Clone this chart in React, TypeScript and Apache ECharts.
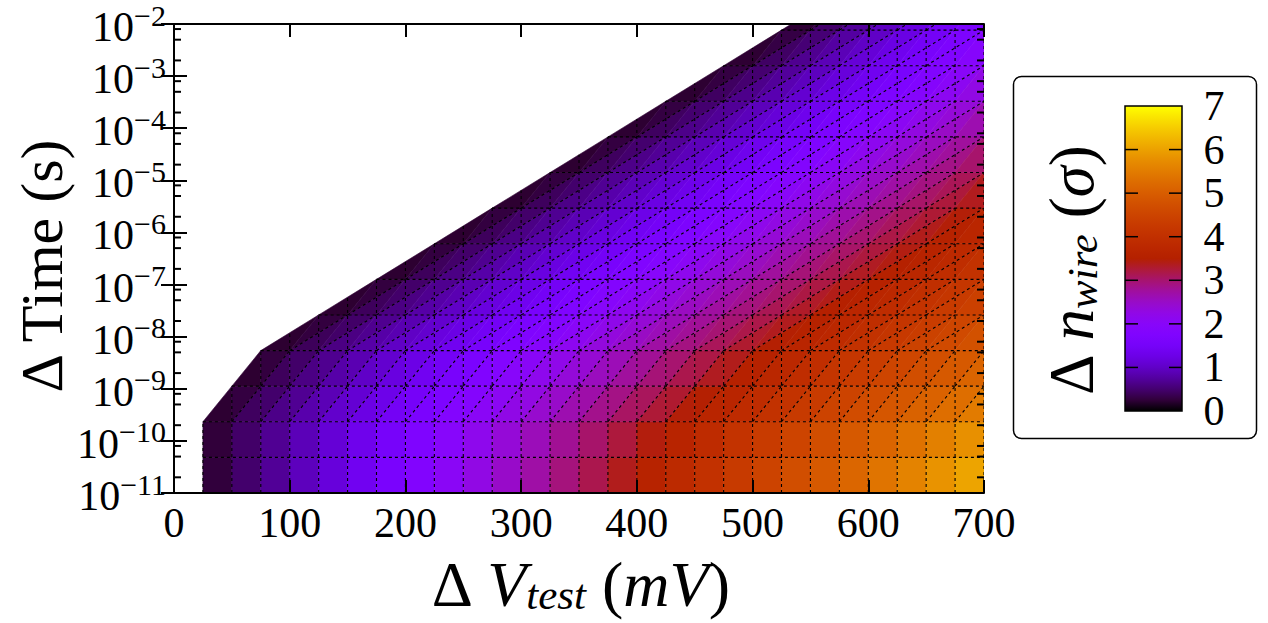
import React, { useEffect, useRef } from "react";
import * as echarts from "echarts";

const FONT = "Liberation Serif, serif";

// Test-voltage steps (mV): one mesh column each
const VOLTAGES = [
  25, 50, 75, 100, 125, 150, 175, 200, 225, 250, 275, 300, 325, 350, 375, 400,
  425, 450, 475, 500, 525, 550, 575, 600, 625, 650, 675, 700,
];

// log10 of the time step (s): one mesh row each
const TIME_EXPONENTS = [
  -11.0, -10.317, -9.633, -8.95, -8.267, -7.583, -6.9, -6.217, -5.533, -4.85,
  -4.167, -3.483, -2.8, -2.117, -1.433,
];

// Δn_wire (σ) on each mesh row; a row starts at its first valid voltage and
// runs up to 700 mV (rows are right-aligned on VOLTAGES)
const ROW_00 = [0.15, 0.38, 0.6, 0.83, 1.05, 1.28, 1.5, 1.73, 1.95, 2.18, 2.4, 2.63, 2.85, 3.08, 3.3, 3.53, 3.75, 3.98, 4.2, 4.43, 4.65, 4.88, 5.1, 5.33, 5.55, 5.78, 6.0, 6.23];
const ROW_01 = [0.15, 0.37, 0.59, 0.81, 1.03, 1.25, 1.47, 1.69, 1.91, 2.13, 2.35, 2.57, 2.79, 3.01, 3.23, 3.45, 3.67, 3.89, 4.11, 4.33, 4.55, 4.77, 4.99, 5.21, 5.43, 5.65, 5.87, 6.09];
const ROW_02 = [0.15, 0.36, 0.56, 0.77, 0.97, 1.18, 1.38, 1.59, 1.79, 2.0, 2.2, 2.41, 2.61, 2.82, 3.02, 3.23, 3.43, 3.64, 3.84, 4.05, 4.25, 4.46, 4.66, 4.87, 5.07, 5.28, 5.48, 5.69];
const ROW_03 = [0.15, 0.35, 0.55, 0.74, 0.94, 1.14, 1.34, 1.54, 1.73, 1.93, 2.13, 2.33, 2.53, 2.72, 2.92, 3.12, 3.32, 3.52, 3.71, 3.91, 4.11, 4.31, 4.51, 4.7, 4.9, 5.1, 5.3];
const ROW_04 = [0.15, 0.34, 0.53, 0.73, 0.92, 1.11, 1.3, 1.49, 1.69, 1.88, 2.07, 2.26, 2.45, 2.65, 2.84, 3.03, 3.22, 3.41, 3.61, 3.8, 3.99, 4.18, 4.37, 4.57, 4.76, 4.95];
const ROW_05 = [0.15, 0.34, 0.54, 0.73, 0.92, 1.12, 1.31, 1.5, 1.7, 1.89, 2.09, 2.28, 2.47, 2.67, 2.86, 3.05, 3.25, 3.44, 3.63, 3.83, 4.02, 4.21, 4.41, 4.6];
const ROW_06 = [0.15, 0.35, 0.54, 0.74, 0.93, 1.13, 1.32, 1.52, 1.71, 1.91, 2.1, 2.3, 2.49, 2.69, 2.88, 3.08, 3.27, 3.47, 3.66, 3.86, 4.05, 4.25];
const ROW_07 = [0.15, 0.35, 0.54, 0.74, 0.94, 1.14, 1.33, 1.53, 1.73, 1.92, 2.12, 2.32, 2.51, 2.71, 2.91, 3.11, 3.3, 3.5, 3.7, 3.89];
const ROW_08 = [0.15, 0.35, 0.55, 0.75, 0.95, 1.15, 1.35, 1.55, 1.75, 1.95, 2.15, 2.35, 2.55, 2.75, 2.95, 3.15, 3.35, 3.55];
const ROW_09 = [0.15, 0.35, 0.56, 0.76, 0.96, 1.17, 1.37, 1.57, 1.77, 1.98, 2.18, 2.38, 2.59, 2.79, 2.99, 3.2];
const ROW_10 = [0.15, 0.36, 0.57, 0.77, 0.98, 1.19, 1.4, 1.61, 1.81, 2.02, 2.23, 2.44, 2.65, 2.85];
const ROW_11 = [0.15, 0.36, 0.57, 0.78, 0.99, 1.2, 1.4, 1.61, 1.82, 2.03, 2.24, 2.45];
const ROW_12 = [0.15, 0.37, 0.58, 0.8, 1.02, 1.24, 1.45, 1.67, 1.89, 2.1];
const ROW_13 = [0.15, 0.39, 0.62, 0.86, 1.09, 1.33, 1.57, 1.8];
const ROW_14 = [0.15, 0.42, 0.69, 0.96, 1.23, 1.5];

const ROWS = [ROW_00, ROW_01, ROW_02, ROW_03, ROW_04, ROW_05, ROW_06, ROW_07, ROW_08, ROW_09, ROW_10, ROW_11, ROW_12, ROW_13, ROW_14];

// Axis ticks
const X_MIN = 0;
const X_MAX = 700;
const X_STEP = 100;
const Y_DECADE_MIN = -11;
const Y_DECADE_MAX = -2;
const MINOR_MANTISSAS = [2, 5, 8];
const COLORBAR_TICKS = [0, 1, 2, 3, 4, 5, 6, 7];
const COLOR_MAX = 7;

// gnuplot colormap: r = sqrt(t), g = t^3, b = sin(2πt)
function gnuplot(t: number): string {
  const u = Math.min(1, Math.max(0, t));
  const r = Math.sqrt(u);
  const g = u * u * u;
  const b = Math.max(0, Math.sin(2 * Math.PI * u));
  return `rgb(${Math.round(r * 255)},${Math.round(g * 255)},${Math.round(b * 255)})`;
}

const N_COL = VOLTAGES.length;
const firstCol = ROWS.map((r) => N_COL - r.length);
const nodeVal = (i: number, k: number) => ROWS[k][i - firstCol[k]];

// Flat-shaded mesh: quads in the bottom bands, triangles sheared along the
// edge of the valid region elsewhere
type Poly = { pts: number[][]; v: number };
const polys: Poly[] = [];
const addPoly = (ids: number[][]) => {
  const pts = ids.map(([i, k]) => [VOLTAGES[i], TIME_EXPONENTS[k]]);
  const v = ids.reduce((s, [i, k]) => s + nodeVal(i, k), 0) / ids.length;
  polys.push({ pts, v });
};
for (let k = 0; k < ROWS.length - 1; k++) {
  const a = firstCol[k];
  const b = firstCol[k + 1];
  const s = b - a;
  for (let i = a; i < N_COL - 1; i++) {
    if (s === 0) {
      addPoly([[i, k], [i + 1, k], [i + 1, k + 1], [i, k + 1]]);
      continue;
    }
    addPoly([[i, k], [i + 1, k], [Math.min(i + s, N_COL - 1), k + 1]]);
    if (i + s <= N_COL - 1 && i + s - 1 >= b) {
      addPoly([[i, k], [i + s, k + 1], [i + s - 1, k + 1]]);
    }
  }
}

// Dashed mesh edges: rows, columns and shear diagonals
const segs: number[][] = [];
for (let k = 1; k < ROWS.length - 1; k++) {
  segs.push([VOLTAGES[firstCol[k]], TIME_EXPONENTS[k], VOLTAGES[N_COL - 1], TIME_EXPONENTS[k]]);
}
for (let i = 0; i < N_COL; i++) {
  let top = 0;
  for (let k = 0; k < ROWS.length; k++) if (firstCol[k] <= i) top = k;
  let eTop = TIME_EXPONENTS[top];
  if (top < ROWS.length - 1) {
    const s = firstCol[top + 1] - firstCol[top];
    if (s === 2 && i === firstCol[top] + 1) eTop = (TIME_EXPONENTS[top] + TIME_EXPONENTS[top + 1]) / 2;
  }
  segs.push([VOLTAGES[i], TIME_EXPONENTS[0], VOLTAGES[i], eTop]);
}
for (let k = 0; k < ROWS.length - 1; k++) {
  const s = firstCol[k + 1] - firstCol[k];
  if (s === 0) continue;
  for (let i = firstCol[k] + 1; i + s <= N_COL - 1; i++) {
    segs.push([VOLTAGES[i], TIME_EXPONENTS[k], VOLTAGES[i + s], TIME_EXPONENTS[k + 1]]);
  }
}

const minorTicks: number[][] = [];
for (let d = Y_DECADE_MIN; d < Y_DECADE_MAX; d++) {
  MINOR_MANTISSAS.forEach((m) => minorTicks.push([0, d + Math.log10(m)]));
}

// Colorbar layout (pixels)
const CB = { x: 1125, y: 106, w: 57, h: 305 };
const cbY = (v: number) => CB.y + CB.h - (v / COLOR_MAX) * CB.h;

const makeRich = (size: number, subSize: number) => ({
  r: { fontFamily: FONT, fontSize: size, lineHeight: size, fill: "#000" },
  i: { fontFamily: FONT, fontStyle: "italic", fontSize: size, lineHeight: size, fill: "#000" },
  sub: { fontFamily: FONT, fontStyle: "italic", fontSize: subSize, lineHeight: subSize, verticalAlign: "bottom", fill: "#000" },
});

function buildGraphic() {
  const stops = [];
  for (let j = 0; j <= 28; j++) stops.push({ offset: j / 28, color: gnuplot(1 - j / 28) });
  const els: any[] = [
    {
      type: "rect",
      shape: { x: 1013.5, y: 76.5, width: 243, height: 362, r: 8 },
      style: { fill: "#fff", stroke: "#000", lineWidth: 1.5 },
      z: 1,
    },
    {
      type: "rect",
      shape: { x: CB.x, y: CB.y, width: CB.w, height: CB.h },
      style: { fill: new echarts.graphic.LinearGradient(0, 0, 0, 1, stops), stroke: "#000", lineWidth: 1.5 },
      z: 2,
    },
  ];
  COLORBAR_TICKS.forEach((v) => {
    const y = cbY(v);
    if (v > 0 && v < COLOR_MAX) {
      els.push({ type: "line", shape: { x1: CB.x, y1: y, x2: CB.x + 13, y2: y }, style: { stroke: "#000", lineWidth: 1.5 }, z: 3 });
      els.push({ type: "line", shape: { x1: CB.x + CB.w - 13, y1: y, x2: CB.x + CB.w, y2: y }, style: { stroke: "#000", lineWidth: 1.5 }, z: 3 });
    }
    els.push({
      type: "text",
      x: 1214,
      y,
      style: { text: String(v), fontFamily: FONT, fontSize: 42, fill: "#000", align: "center", verticalAlign: "middle" },
      z: 3,
    });
  });
  // Colorbar title
  els.push({
    type: "text",
    x: 1072,
    y: 271,
    rotation: Math.PI / 2,
    style: {
      text: "{r|Δ }{i|n}{sub|wire}{r| (}{i|σ}{r|)}",
      align: "center",
      verticalAlign: "middle",
      fill: "#000",
      rich: makeRich(63, 43),
    },
    z: 3,
  });
  // Axis titles
  els.push({
    type: "text",
    x: 42,
    y: 266,
    rotation: Math.PI / 2,
    style: { text: "Δ Time (s)", fontFamily: FONT, fontSize: 60, fill: "#000", align: "center", verticalAlign: "middle" },
  });
  els.push({
    type: "text",
    x: 580,
    y: 584,
    style: {
      text: "{r|Δ }{i|V}{sub|test}{r| (}{i|mV}{r|)}",
      align: "center",
      verticalAlign: "middle",
      fill: "#000",
      rich: makeRich(64, 43),
    },
  });
  return els;
}

const axisLine = { show: true, lineStyle: { color: "#000", width: 2 } };
const majorTick = { show: true, inside: true, length: 13, lineStyle: { color: "#000", width: 2 } };

export default function App() {
  const ref = useRef<HTMLDivElement>(null);

  useEffect(() => {
    if (!ref.current) return;
    const chart = echarts.init(ref.current, undefined, { renderer: "svg" });
    chart.setOption({
      animation: false,
      backgroundColor: "#fff",
      textStyle: { fontFamily: FONT },
      grid: { left: 174, top: 23, width: 810, height: 470 },
      xAxis: [
        {
          type: "value", min: X_MIN, max: X_MAX, interval: X_STEP, position: "bottom", z: 10,
          axisLine, axisTick: majorTick, splitLine: { show: false },
          axisLabel: { fontFamily: FONT, fontSize: 42, color: "#000", margin: 9 },
        },
        {
          type: "value", min: X_MIN, max: X_MAX, interval: X_STEP, position: "top", z: 10,
          axisLine, axisTick: majorTick, splitLine: { show: false }, axisLabel: { show: false },
        },
      ],
      yAxis: [
        {
          type: "value", min: Y_DECADE_MIN, max: Y_DECADE_MAX, interval: 1, position: "left", z: 10,
          axisLine, axisTick: majorTick, splitLine: { show: false },
          axisLabel: {
            margin: 8,
            formatter: (v: number) => `{b|10}{s|−${Math.abs(v)}}`,
            rich: {
              b: { fontFamily: FONT, fontSize: 42, lineHeight: 48, color: "#000", verticalAlign: "bottom" },
              s: { fontFamily: FONT, fontSize: 30, lineHeight: 30, color: "#000", verticalAlign: "top" },
            },
          },
        },
        {
          type: "value", min: Y_DECADE_MIN, max: Y_DECADE_MAX, interval: 1, position: "right", z: 10,
          axisLine, axisTick: majorTick, splitLine: { show: false }, axisLabel: { show: false },
        },
      ],
      series: [
        {
          type: "custom",
          coordinateSystem: "cartesian2d",
          clip: true,
          silent: true,
          z: 2,
          data: polys.map((p, idx) => [idx, p.v]),
          renderItem: (_params: any, api: any) => {
            const p = polys[api.value(0)];
            const color = gnuplot(api.value(1) / COLOR_MAX);
            return {
              type: "polygon",
              shape: { points: p.pts.map((pt) => api.coord(pt)) },
              style: { fill: color, stroke: color, lineWidth: 0.6 },
            };
          },
        },
        {
          type: "custom",
          coordinateSystem: "cartesian2d",
          clip: true,
          silent: true,
          z: 3,
          data: segs.map((_s, idx) => [idx, 0]),
          renderItem: (_params: any, api: any) => {
            const s = segs[api.value(0)];
            const p1 = api.coord([s[0], s[1]]);
            const p2 = api.coord([s[2], s[3]]);
            return {
              type: "line",
              shape: { x1: p1[0], y1: p1[1], x2: p2[0], y2: p2[1] },
              style: { stroke: "#000", lineWidth: 1.1, lineDash: [3, 3] },
            };
          },
        },
        {
          type: "custom",
          coordinateSystem: "cartesian2d",
          silent: true,
          z: 11,
          data: minorTicks,
          renderItem: (params: any, api: any) => {
            const y = api.coord([0, api.value(1)])[1];
            const cs = params.coordSys;
            return {
              type: "group",
              children: [
                { type: "line", shape: { x1: cs.x, y1: y, x2: cs.x + 7, y2: y }, style: { stroke: "#000", lineWidth: 2 } },
                { type: "line", shape: { x1: cs.x + cs.width - 7, y1: y, x2: cs.x + cs.width, y2: y }, style: { stroke: "#000", lineWidth: 2 } },
              ],
            };
          },
        },
      ],
      graphic: buildGraphic(),
    });
    return () => chart.dispose();
  }, []);

  return (
    <div
      ref={ref}
      style={{ position: "fixed", left: 0, top: 0, width: "1268px", height: "623px", background: "#fff" }}
    />
  );
}
